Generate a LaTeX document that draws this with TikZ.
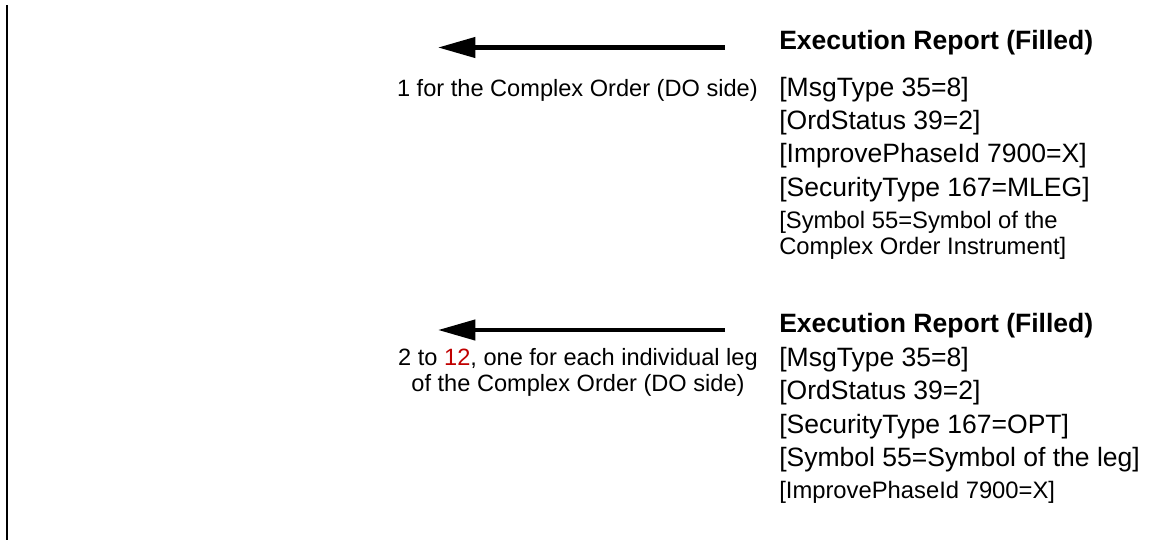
\documentclass[tikz,border=0pt]{standalone}
\usepackage{fontspec}
\setmainfont{Liberation Sans}
\usepackage{xcolor}
\usetikzlibrary{arrows.meta,positioning}
\definecolor{darkred}{HTML}{C00000}
\tikzset{
	msgtitle/.style={anchor=base west, inner sep=0pt, font=\fontsize{19.9}{24}\selectfont\bfseries},
	field/.style={anchor=base west, inner sep=0pt, font=\fontsize{19.9}{24}\selectfont},
	smallfield/.style={anchor=base west, inner sep=0pt, font=\fontsize{17.85}{22.5}\selectfont},
	note/.style={anchor=base east, inner sep=0pt, align=center, font=\fontsize{17.7}{19.5}\selectfont},
	msgarrow/.style={-{Triangle[length=28pt, width=15pt]}, line width=3.2pt}
}

\begin{document}
\begin{tikzpicture}[x=0.75pt, y=-0.75pt]
	\useasboundingbox (0,0) rectangle (1156,540);
	
	%% -- Lifeline
	\coordinate (lifetop) at (6.7,5);
	\coordinate (lifebot) at (6.7,540);
	\draw[line width=1.5pt] (lifetop) -- (lifebot);
	
	%% -- First report: the Complex Order
	\coordinate (a1from) at (725,47.5);
	\coordinate (a1to) at (438,47.5);
	\draw[msgarrow] (a1from) -- (a1to);
	
	\node[note] (n1) at (758,96) {1 for the Complex Order (DO side)};
	
	\node[msgtitle] (r1) at (779,49) {Execution Report (Filled)};
	\node[field] (r1a) at (779,96) {[MsgType 35=8]};
	\node[field] (r1b) at (779,129) {[OrdStatus 39=2]};
	\node[field] (r1c) at (779,162.5) {[ImprovePhaseId 7900=X]};
	\node[field] (r1d) at (779,196) {[SecurityType 167=MLEG]};
	\node[smallfield] (r1e) at (779,228.5) {[Symbol 55=Symbol of the};
	\node[smallfield] (r1f) at (779,254.5) {Complex Order Instrument]};
	
	%% -- Second report: one per leg
	\coordinate (a2from) at (725,330);
	\coordinate (a2to) at (438,330);
	\draw[msgarrow] (a2from) -- (a2to);
	
	\node[note] (n2) at (758,391)
	{2 to \textcolor{darkred}{12}, one for each individual leg\\
		of the Complex Order (DO side)};
	
	\node[msgtitle] (r2) at (779,332) {Execution Report (Filled)};
	\node[field] (r2a) at (779,366) {[MsgType 35=8]};
	\node[field] (r2b) at (779,399.5) {[OrdStatus 39=2]};
	\node[field] (r2c) at (779,433) {[SecurityType 167=OPT]};
	\node[field] (r2d) at (779,466.5) {[Symbol 55=Symbol of the leg]};
	\node[smallfield] (r2e) at (779,498) {[ImprovePhaseId 7900=X]};
	
\end{tikzpicture}
\end{document}
